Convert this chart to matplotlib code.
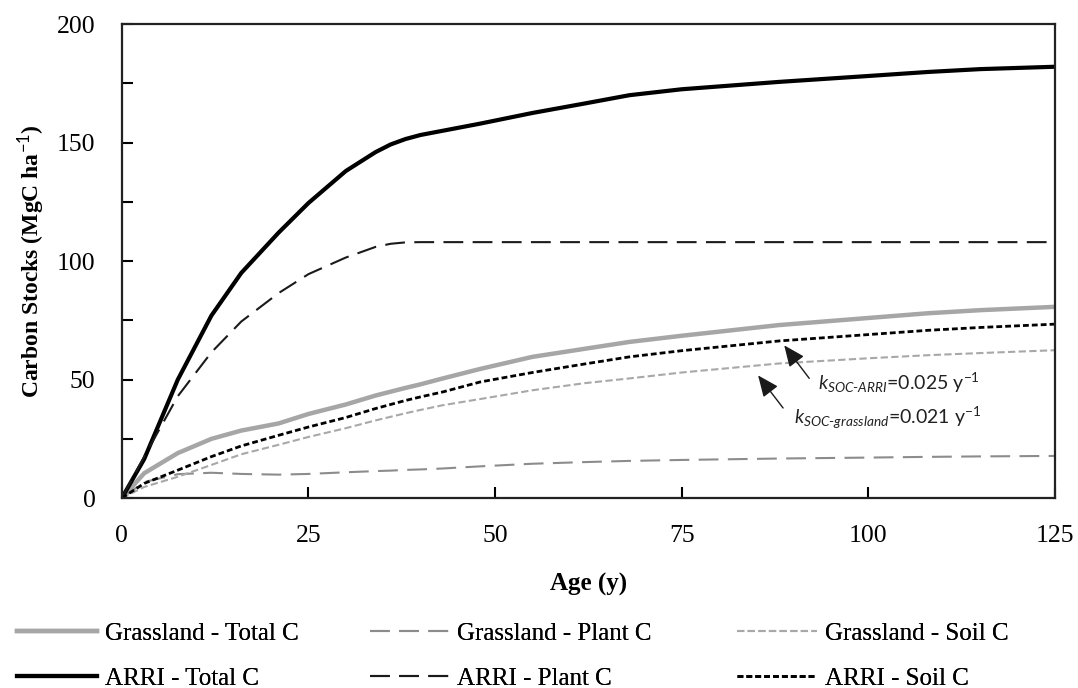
import numpy as np
import matplotlib.pyplot as plt

plt.rcParams['font.family'] = ['Liberation Serif', 'DejaVu Serif']
plt.rcParams['mathtext.fontset'] = 'custom'
plt.rcParams['mathtext.rm'] = 'Lato'
plt.rcParams['mathtext.it'] = 'Lato:italic'
plt.rcParams['mathtext.bf'] = 'Lato:bold'

# stand age (years)
age = [0, 3, 7.5, 12, 16, 21, 25, 30, 34, 36, 38, 40, 43, 48, 55, 62, 68, 75, 88, 100, 108, 115, 125]

# carbon stocks (MgC/ha)
grass_total = [0, 10.5, 19, 25, 28.5, 31.5, 35.5, 39.5, 43.3, 44.9, 46.5, 48, 50.5, 54.5, 59.6, 63,
               65.9, 68.5, 73, 76, 78, 79.3, 80.7]
grass_plant = [0, 6.8, 10.1, 10.7, 10.2, 9.9, 10.2, 10.9, 11.4, 11.6, 11.9, 12.1, 12.5, 13.4, 14.5,
               15.2, 15.7, 16.1, 16.7, 17.1, 17.4, 17.6, 17.8]
grass_soil = [0, 4.7, 9, 14, 18.5, 22.5, 25.8, 29.5, 32.8, 34.3, 35.8, 37.2, 39.2, 41.8, 45.5, 48.5,
              50.5, 53, 56.8, 59, 60.3, 61.2, 62.4]
arri_total = [0, 16.5, 50, 77, 95, 112, 124.5, 138, 146, 149.2, 151.5, 153.2, 155, 158, 162.5,
              166.5, 170, 172.5, 175.6, 178.1, 179.8, 181, 182]
arri_plant = [0, 17.5, 43, 61.5, 74.5, 86.5, 94.5, 101.5, 106, 107.3, 107.9, 108, 108, 108, 108,
              108, 108, 108, 108, 108, 108, 108, 108]
arri_soil = [0, 6.2, 11.8, 17.5, 22, 26.5, 30, 34, 37.8, 39.5, 41.2, 42.7, 44.8, 49, 53, 56.6,
             59.6, 62.2, 66.3, 69, 70.8, 72, 73.4]

x_ticks = [0, 25, 50, 75, 100, 125]
y_ticks = [0, 25, 50, 75, 100, 125, 150, 175, 200]
y_ticklabels = ['0', '', '50', '', '100', '', '150', '', '200']

fig = plt.figure(figsize=(10.78, 6.88), dpi=100)
ax = fig.add_axes([0.113, 0.276, 0.8657, 0.689])

l_gt, = ax.plot(age, grass_total, color='#a6a6a6', lw=3.2, label='Grassland - Total C')
l_gp, = ax.plot(age, grass_plant, color='#8c8c8c', lw=1.5, dashes=(9.5, 4.5), label='Grassland - Plant C')
l_gs, = ax.plot(age, grass_soil, color='#a8a8a8', lw=1.5, dashes=(3.5, 1.6), label='Grassland - Soil C')
l_at, = ax.plot(age, arri_total, color='black', lw=3.0, label='ARRI - Total C')
l_ap, = ax.plot(age, arri_plant, color='#1a1a1a', lw=1.5, dashes=(9.5, 4.5), label='ARRI - Plant C')
l_as, = ax.plot(age, arri_soil, color='black', lw=2.0, dashes=(2.1, 1.1), label='ARRI - Soil C')

ax.set_xlim(0, 125)
ax.set_ylim(0, 200)
ax.set_xticks(x_ticks)
ax.set_xticklabels([str(v) for v in x_ticks])
ax.set_yticks(y_ticks)
ax.set_yticklabels(y_ticklabels)
ax.tick_params(direction='in', length=8, width=1.5, labelsize=18.5, pad=19)
for s in ax.spines.values():
    s.set_linewidth(1.6)
    s.set_color('#222222')

ax.set_xlabel('Age (y)', fontsize=18, fontweight='bold', labelpad=19)
ax.set_ylabel('Carbon Stocks (MgC ha$^{-1}$)', fontsize=17, fontweight='bold', labelpad=7)

# decay-rate annotations for the soil pools
arrow = dict(arrowstyle='-|>,head_length=0.65,head_width=0.28', color='#1a1a1a', lw=1.0,
             mutation_scale=20)
ax.annotate('', xy=(88.5, 65.4), xytext=(92.3, 49.6), arrowprops=arrow)
ax.text(93.2, 48.5, r'$\mathit{k}_{\mathit{SOC\text{-}ARRI}}$=0.025 y$^{\mathrm{-1}}$',
        fontsize=14, family='Lato', va='center', ha='left', color='#222222')
ax.annotate('', xy=(85, 52.7), xytext=(88.8, 37.1), arrowprops=arrow)
ax.text(90, 33.7, r'$\mathit{k}_{\mathit{SOC\text{-}grassland}}$=0.021 y$^{\mathrm{-1}}$',
        fontsize=14, family='Lato', va='center', ha='left', color='#222222')

# legend: one two-row block per pool
legend_cols = [(l_gt, l_at), (l_gp, l_ap), (l_gs, l_as)]
col_x = [0.016, 0.343, 0.684]
for x0, pair in zip(col_x, legend_cols):
    leg = fig.legend(handles=list(pair), loc='center left', bbox_to_anchor=(x0, 0.046),
                     frameon=False, fontsize=18, handlelength=3.2, handletextpad=0.3,
                     labelspacing=0.9, borderpad=0, borderaxespad=0)
    fig.add_artist(leg)

fig.savefig('out.png', dpi=100)
